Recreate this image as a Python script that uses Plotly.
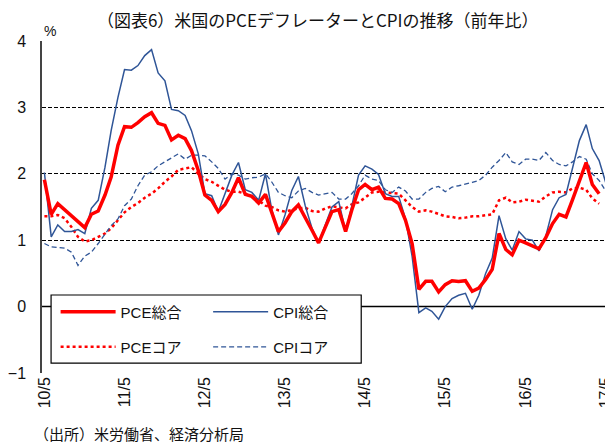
import pandas as pd
import plotly.graph_objects as go

# monthly, 2010/5 - 2017/5 (PCE ends 2017/4)
months = pd.date_range("2010-05-01", "2017-05-01", freq="MS")

cpi_total = [
    2.02, 1.05, 1.23, 1.13, 1.13, 1.16, 1.10, 1.48,
    1.60, 2.10, 2.65, 3.15, 3.57, 3.56, 3.63, 3.78, 3.87, 3.52, 3.40, 2.97,
    2.95, 2.88, 2.65, 2.30, 1.70, 1.67, 1.43, 1.69, 1.98, 2.17, 1.76, 1.72,
    1.60, 2.00, 1.47, 1.08, 1.38, 1.75, 1.96, 1.52, 1.18, 0.96, 1.24, 1.50,
    1.58, 1.13, 1.51, 1.98, 2.12, 2.07, 1.99, 1.70, 1.66, 1.66, 1.32, 0.76,
    -0.09, -0.02, -0.07, -0.19, 0.00, 0.12, 0.17, 0.20, -0.04, 0.17, 0.50, 0.73,
    1.37, 1.02, 0.85, 1.13, 1.02, 1.00, 0.84, 1.06, 1.46, 1.64, 1.69, 2.07,
    2.50, 2.74, 2.38, 2.20, 1.87,
]
cpi_core = [
    0.95, 0.90, 0.89, 0.88, 0.82, 0.62, 0.76, 0.82,
    0.95, 1.10, 1.22, 1.32, 1.52, 1.62, 1.82, 1.98, 2.03, 2.12, 2.18, 2.25,
    2.30, 2.22, 2.28, 2.28, 2.27, 2.18, 2.08, 1.92, 2.00, 1.98, 1.92, 1.94,
    1.95, 2.00, 1.88, 1.72, 1.67, 1.64, 1.74, 1.78, 1.72, 1.68, 1.70, 1.72,
    1.62, 1.62, 1.70, 1.82, 1.98, 1.92, 1.90, 1.76, 1.72, 1.80, 1.74, 1.62,
    1.62, 1.72, 1.78, 1.81, 1.73, 1.80, 1.82, 1.84, 1.87, 1.90, 1.98, 2.10,
    2.20, 2.32, 2.18, 2.14, 2.22, 2.22, 2.20, 2.32, 2.20, 2.14, 2.12, 2.18,
    2.26, 2.22, 2.00, 1.90, 1.74,
]
pce_total = [
    1.91, 1.39, 1.55, 1.46, 1.37, 1.28, 1.19, 1.39,
    1.44, 1.68, 1.95, 2.43, 2.71, 2.70, 2.77, 2.86, 2.92, 2.76, 2.73, 2.51,
    2.58, 2.53, 2.35, 2.05, 1.68, 1.60, 1.43, 1.54, 1.72, 1.94, 1.69, 1.66,
    1.56, 1.69, 1.41, 1.13, 1.26, 1.43, 1.53, 1.35, 1.15, 0.96, 1.20, 1.43,
    1.46, 1.13, 1.45, 1.76, 1.84, 1.76, 1.80, 1.63, 1.62, 1.55, 1.30, 0.95,
    0.26, 0.38, 0.38, 0.22, 0.33, 0.39, 0.38, 0.39, 0.23, 0.28, 0.41, 0.56,
    1.10, 0.86, 0.78, 1.00, 0.96, 0.92, 0.87, 1.04, 1.25, 1.39, 1.35, 1.61,
    1.89, 2.17, 1.84, 1.70,
]
pce_core = [
    1.36, 1.36, 1.38, 1.33, 1.20, 1.05, 0.98, 1.00,
    1.05, 1.10, 1.18, 1.30, 1.42, 1.50, 1.56, 1.64, 1.70, 1.78, 1.88, 1.96,
    2.06, 2.08, 2.10, 2.00, 1.92, 1.88, 1.82, 1.76, 1.73, 1.73, 1.70, 1.66,
    1.60, 1.52, 1.50, 1.45, 1.43, 1.46, 1.48, 1.49, 1.44, 1.43, 1.48, 1.51,
    1.49, 1.48, 1.54, 1.57, 1.64, 1.72, 1.73, 1.72, 1.72, 1.70, 1.60, 1.50,
    1.43, 1.45, 1.43, 1.40, 1.36, 1.35, 1.33, 1.34, 1.36, 1.36, 1.38, 1.39,
    1.60, 1.64, 1.57, 1.58, 1.61, 1.60, 1.58, 1.66, 1.72, 1.73, 1.72, 1.78,
    1.79, 1.76, 1.63, 1.55,
]

tick_dates = pd.date_range("2010-05-01", "2017-05-01", freq="12MS")
tick_text = ["10/5", "11/5", "12/5", "13/5", "14/5", "15/5", "16/5", "17/5"]

RED = "#FF0000"
BLUE = "#2F5597"
JP = "Liberation Sans, Noto Sans CJK JP"

fig = go.Figure()
fig.add_trace(go.Scatter(x=months[:len(pce_core)], y=pce_core, name="PCEコア", mode="lines",
                         line=dict(color=RED, width=2.5, dash="dot"), legend="legend3"))
fig.add_trace(go.Scatter(x=months, y=cpi_core, name="CPIコア", mode="lines",
                         line=dict(color=BLUE, width=1.3, dash="5px,3px"), legend="legend4"))
fig.add_trace(go.Scatter(x=months, y=cpi_total, name="CPI総合", mode="lines",
                         line=dict(color=BLUE, width=1.5), legend="legend2"))
fig.add_trace(go.Scatter(x=months[:len(pce_total)], y=pce_total, name="PCE総合", mode="lines",
                         line=dict(color=RED, width=3.5), legend="legend"))

# the page puts the figure 8px in from the top-left, so size it to end at the window edge
leg = dict(bgcolor="rgba(0,0,0,0)", borderwidth=0, font=dict(family=JP, size=15, color="#111"),
           xanchor="left", yanchor="middle", itemwidth=55)
fig.update_layout(
    width=605, height=435,
    margin=dict(l=34, r=4, t=33, b=70, autoexpand=False),
    paper_bgcolor="white", plot_bgcolor="white",
    showlegend=True,
    legend=dict(leg, x=0.024, y=0.184),
    legend2=dict(leg, x=0.293, y=0.184),
    legend3=dict(leg, x=0.024, y=0.078),
    legend4=dict(leg, x=0.293, y=0.078),
    title=dict(text="（図表6）米国のPCEデフレーターとCPIの推移（前年比）",
               x=0.512, y=0.970, xanchor="center", yanchor="middle",
               font=dict(family="Noto Sans CJK JP", size=17, color="#111")),
    xaxis=dict(range=["2010-04-20", "2017-05-16"], tickvals=tick_dates, ticktext=tick_text,
               tickangle=-90, showgrid=False, showline=False, ticks="", automargin=False,
               ticklabeloverflow="allow",
               tickfont=dict(family=JP, size=16, color="#111")),
    yaxis=dict(range=[-1, 4], dtick=1, showgrid=True, gridcolor="black", gridwidth=1,
               griddash="4px,2px", zeroline=False,
               showline=True, mirror=True, linecolor="#444", linewidth=1.5,
               ticks="", ticklabelstandoff=11, automargin=False,
               tickfont=dict(family=JP, size=16, color="#111")),
    shapes=[
        dict(type="line", xref="paper", yref="y", x0=0, x1=1, y0=0, y1=0,
             line=dict(color="black", width=1.5), layer="between"),
        dict(type="rect", xref="paper", yref="paper", x0=0.016, x1=0.563, y0=0.03, y1=0.235,
             fillcolor="white", line=dict(color="black", width=1.2), layer="above"),
    ],
    annotations=[
        dict(text="%", xref="paper", yref="paper", x=0.0, y=1.0, xanchor="left", yanchor="bottom",
             showarrow=False, font=dict(family=JP, size=14, color="#111")),
        dict(text="（出所）米労働省、経済分析局", xref="paper", yref="paper", x=-0.018, y=-0.182,
             xanchor="left", yanchor="middle", showarrow=False,
             font=dict(family="Noto Sans CJK JP", size=15, color="#111")),
    ],
)

fig.write_html("out.html")
